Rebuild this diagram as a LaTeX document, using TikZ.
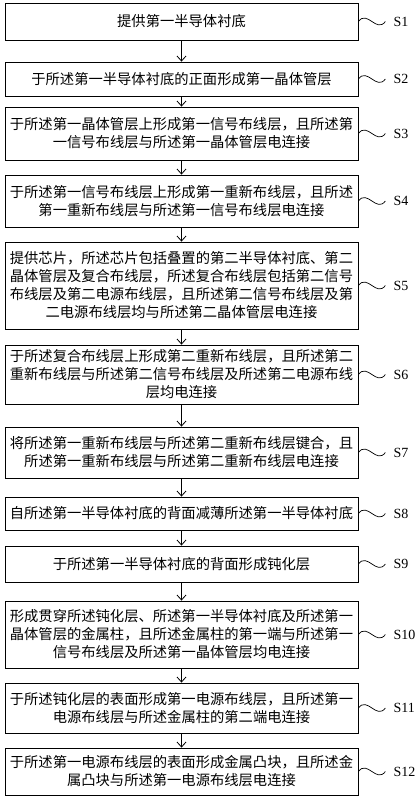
\documentclass[tikz,border=0pt]{standalone}
\usepackage{fontspec}
\setmainfont{Liberation Serif}
\newfontfamily\cjk{Noto Sans CJK SC}
\usetikzlibrary{positioning,arrows.meta}

\tikzset{
  stepbox/.style={draw,line width=0.8pt,minimum width=353,inner sep=0pt,align=center,
    font=\cjk\fontsize{14.3}{18}\selectfont},
  steplabel/.style={inner xsep=8pt,inner ysep=0pt,font=\fontsize{14}{16}\selectfont},
  wave/.style={line width=0.7pt,to path={.. controls +(9,12) and +(-9,-12) .. (\tikztotarget)}}
}

\begin{document}
\begin{tikzpicture}[x=1pt,y=1pt,>={Straight Barb[length=5pt,width=9pt]}]
    \useasboundingbox (0,0) rectangle (416,-798);
    % Schritte
    \node[stepbox,minimum height=37] (s1) at (181.5,-21.5) {提供第一半导体衬底};
    \node[stepbox,minimum height=34] (s2) at (181.5,-79) {于所述第一半导体衬底的正面形成第一晶体管层};
    \node[stepbox,minimum height=53] (s3) at (181.5,-133.5) {于所述第一晶体管层上形成第一信号布线层，且所述第\\一信号布线层与所述第一晶体管层电连接};
    \node[stepbox,minimum height=52] (s4) at (181.5,-201) {于所述第一信号布线层上形成第一重新布线层，且所述\\第一重新布线层与所述第一信号布线层电连接};
    \node[stepbox,minimum height=87] (s5) at (181.5,-285.5) {提供芯片，所述芯片包括叠置的第二半导体衬底、第二\\晶体管层及复合布线层，所述复合布线层包括第二信号\\布线层及第二电源布线层，且所述第二信号布线层及第\\二电源布线层均与所述第二晶体管层电连接};
    \node[stepbox,minimum height=59] (s6) at (181.5,-374.5) {于所述复合布线层上形成第二重新布线层，且所述第二\\重新布线层与所述第二信号布线层及所述第二电源布线\\层均电连接};
    \node[stepbox,minimum height=51] (s7) at (181.5,-452.5) {将所述第一重新布线层与所述第二重新布线层键合，且\\所述第一重新布线层与所述第二重新布线层电连接};
    \node[stepbox,minimum height=33] (s8) at (181.5,-513.5) {自所述第一半导体衬底的背面减薄所述第一半导体衬底};
    \node[stepbox,minimum height=36] (s9) at (181.5,-564) {于所述第一半导体衬底的背面形成钝化层};
    \node[stepbox,minimum height=67] (s10) at (181.5,-634.5) {形成贯穿所述钝化层、所述第一半导体衬底及所述第一\\晶体管层的金属柱，且所述金属柱的第一端与所述第一\\信号布线层及所述第一晶体管层均电连接};
    \node[stepbox,minimum height=50] (s11) at (181.5,-708) {于所述钝化层的表面形成第一电源布线层，且所述第一\\电源布线层与所述金属柱的第二端电连接};
    \node[stepbox,minimum height=47] (s12) at (181.5,-771.5) {于所述第一电源布线层的表面形成金属凸块，且所述金\\属凸块与所述第一电源布线层电连接};
    % Pfeile
    \foreach \i [evaluate=\i as \j using int(\i+1)] in {1,...,11}
        \draw[->,line width=0.8pt] (s\i) -- (s\j);
    % Bezeichnungen
    \foreach \i in {1,...,12}{
        \node[steplabel,right=27 of s\i] (l\i) {S\i};
        \draw[wave] (s\i.east) to (l\i.west);
    }
\end{tikzpicture}
\end{document}
